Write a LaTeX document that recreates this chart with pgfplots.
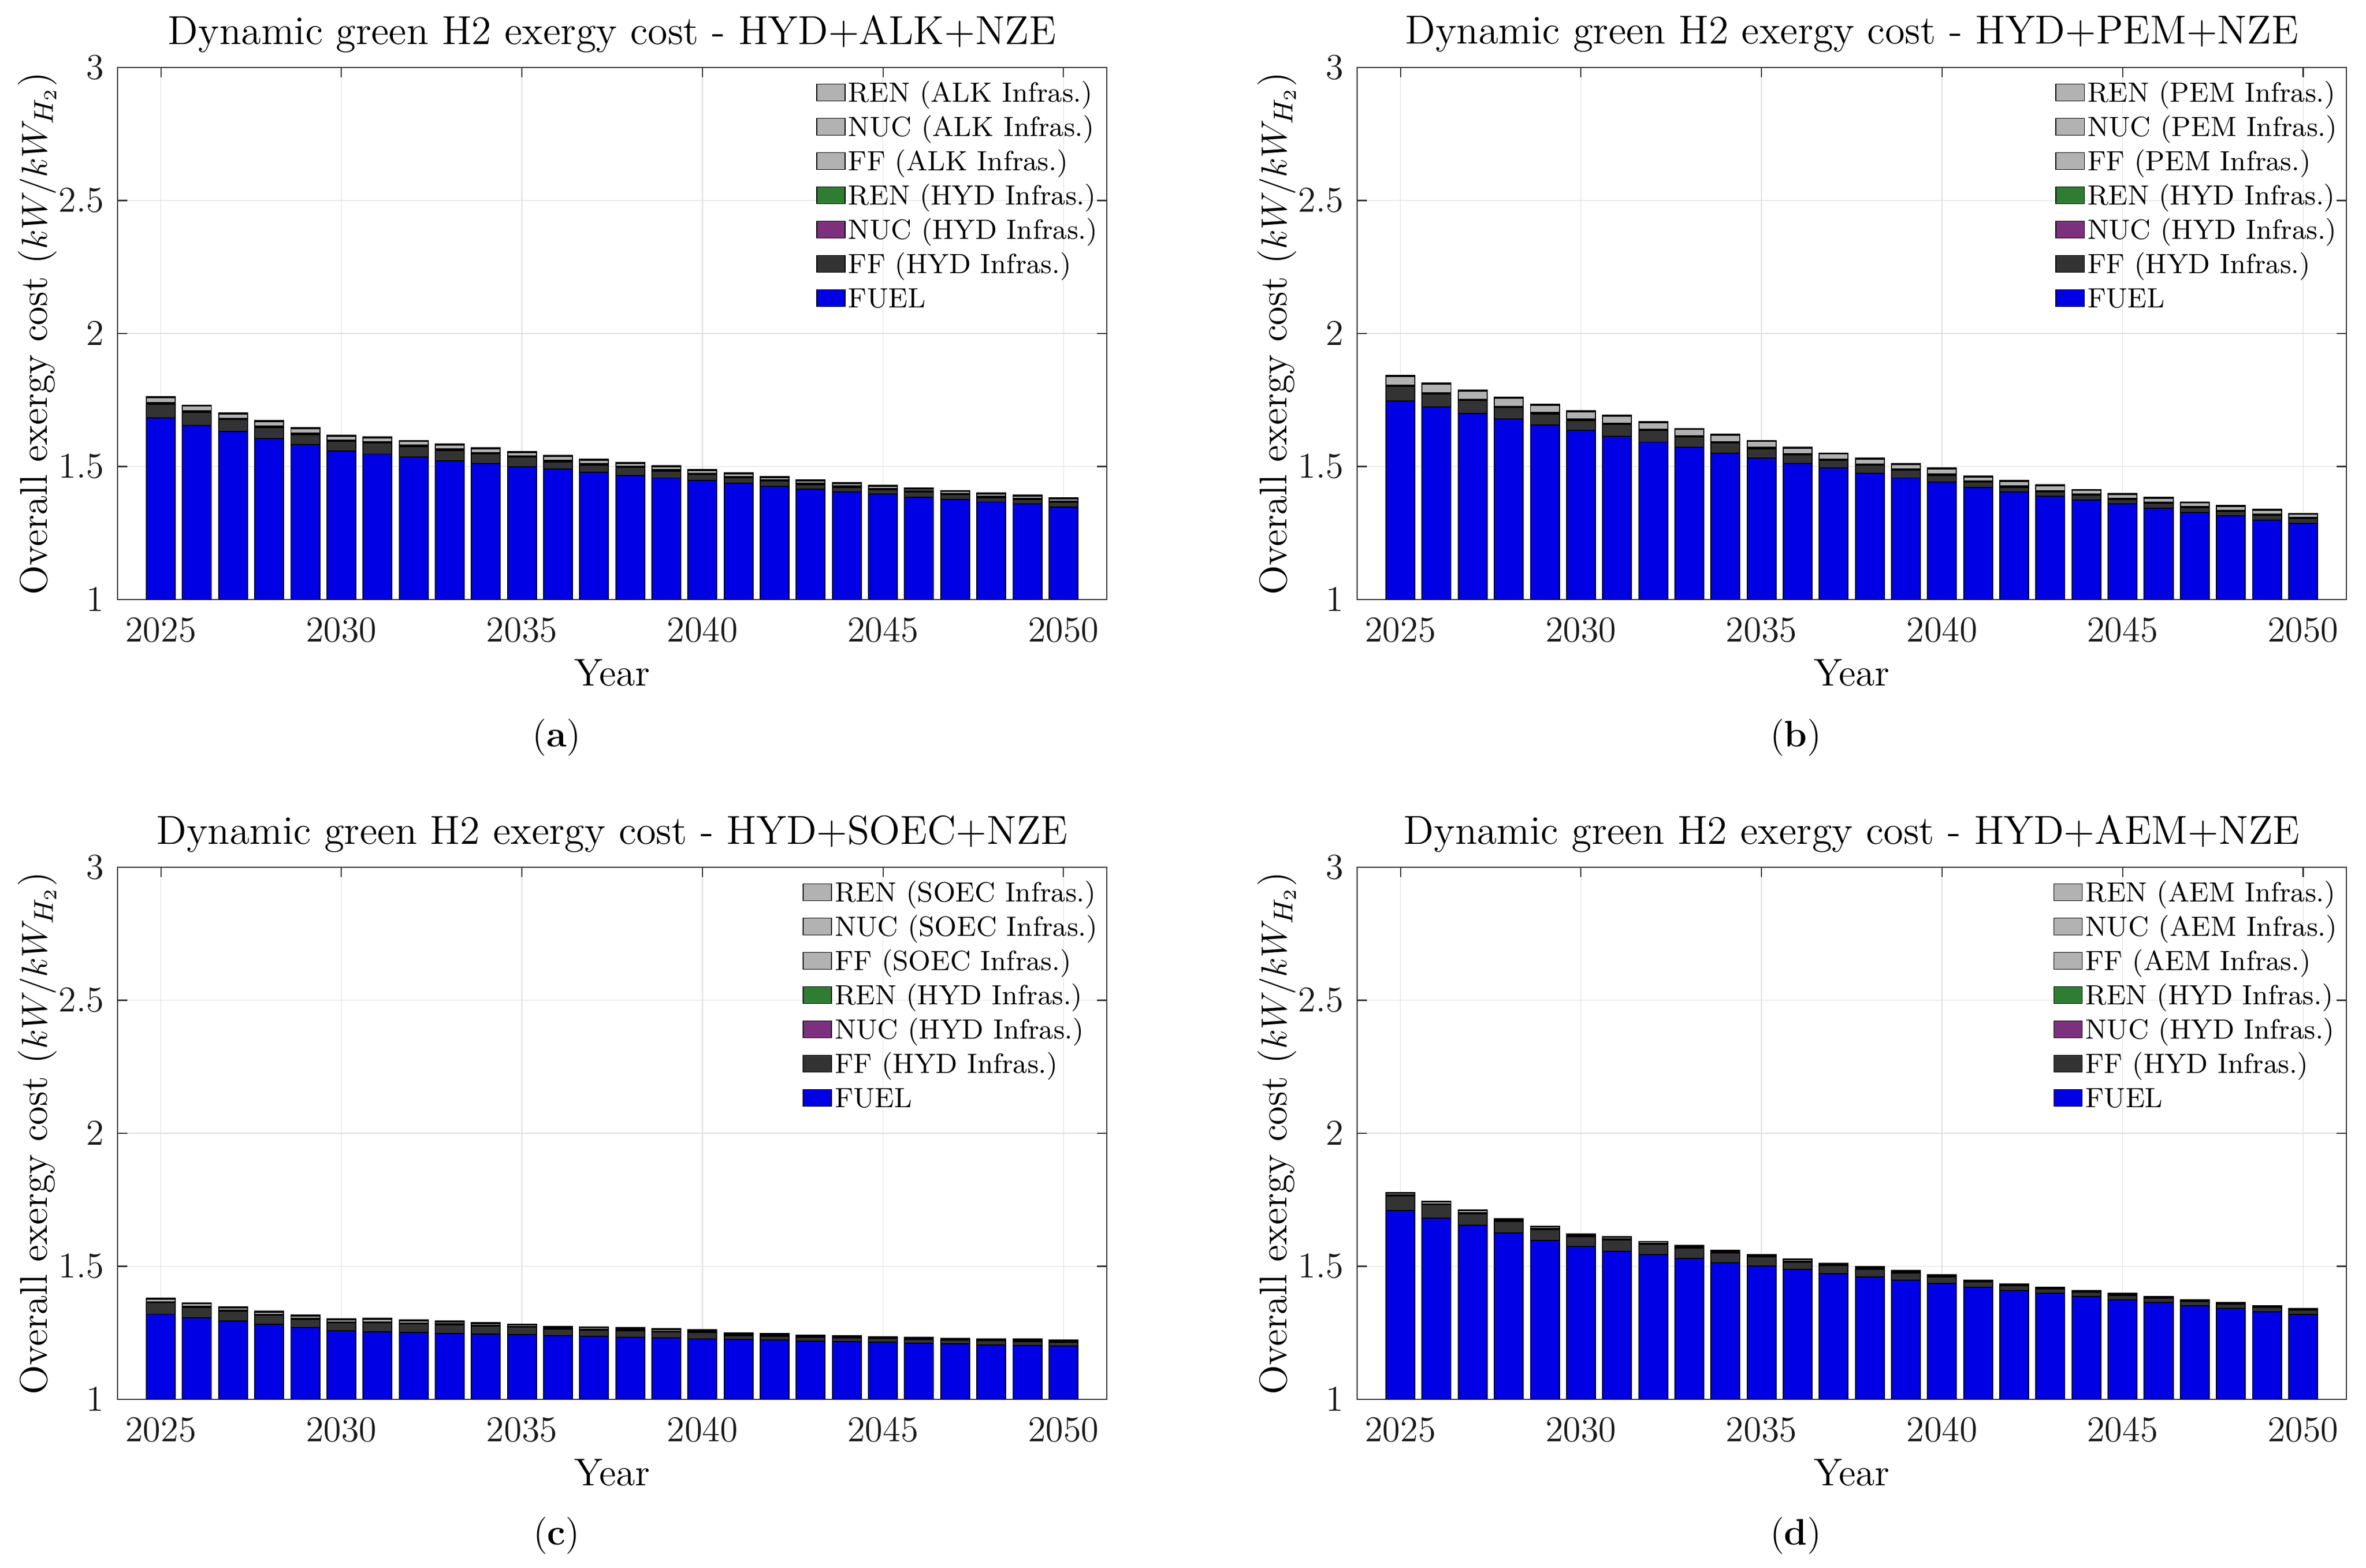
\documentclass[border=0pt]{standalone}
\usepackage{pgfplots}
\pgfplotsset{compat=1.18}
\usepackage{pgfplotstable}

\definecolor{fuelc}{rgb}{0,0,0.9}
\definecolor{ffhc}{rgb}{0.2,0.2,0.2}
\definecolor{nuchc}{rgb}{0.49,0.19,0.49}
\definecolor{renhc}{rgb}{0.18,0.49,0.2}
\definecolor{elc}{rgb}{0.7,0.7,0.7}

% columns: year, FUEL, FF(HYD), NUC(HYD), REN(HYD), FF(EL), NUC(EL), REN(EL)
\pgfplotstableread{
yr fuel ffh nuch renh ffe nuce rene
2025 1.682 0.053 0.001 0.004 0.018 0.002 0.002
2026 1.655 0.049 0.001 0.004 0.018 0.002 0.002
2027 1.631 0.045 0.001 0.004 0.016 0.002 0.002
2028 1.606 0.041 0.001 0.004 0.016 0.002 0.002
2029 1.582 0.038 0.001 0.004 0.017 0.002 0.002
2030 1.559 0.036 0.001 0.004 0.014 0.002 0.002
2031 1.547 0.041 0.001 0.004 0.015 0.002 0.002
2032 1.535 0.040 0.001 0.004 0.014 0.002 0.002
2033 1.522 0.039 0.001 0.004 0.014 0.002 0.002
2034 1.512 0.035 0.001 0.004 0.014 0.002 0.002
2035 1.499 0.036 0.001 0.004 0.013 0.002 0.002
2036 1.490 0.028 0.001 0.004 0.014 0.002 0.002
2037 1.478 0.028 0.001 0.004 0.012 0.002 0.002
2038 1.467 0.029 0.001 0.004 0.011 0.002 0.002
2039 1.457 0.026 0.001 0.004 0.011 0.002 0.002
2040 1.447 0.023 0.001 0.004 0.010 0.002 0.002
2041 1.437 0.021 0.001 0.004 0.009 0.002 0.002
2042 1.426 0.019 0.001 0.004 0.008 0.002 0.002
2043 1.416 0.016 0.001 0.004 0.008 0.002 0.002
2044 1.405 0.017 0.001 0.004 0.008 0.002 0.002
2045 1.396 0.016 0.001 0.004 0.008 0.002 0.002
2046 1.385 0.019 0.001 0.004 0.007 0.002 0.002
2047 1.377 0.017 0.001 0.004 0.007 0.002 0.002
2048 1.367 0.016 0.001 0.004 0.008 0.002 0.002
2049 1.359 0.017 0.001 0.004 0.007 0.002 0.002
2050 1.348 0.017 0.001 0.004 0.008 0.002 0.002
}\tA

\pgfplotstableread{
yr fuel ffh nuch renh ffe nuce rene
2025 1.746 0.055 0.001 0.004 0.033 0.002 0.002
2026 1.723 0.049 0.001 0.004 0.033 0.002 0.002
2027 1.699 0.049 0.001 0.004 0.030 0.002 0.002
2028 1.678 0.043 0.001 0.004 0.030 0.002 0.002
2029 1.656 0.042 0.001 0.004 0.027 0.002 0.002
2030 1.635 0.038 0.001 0.004 0.027 0.002 0.002
2031 1.613 0.045 0.001 0.004 0.026 0.002 0.002
2032 1.592 0.043 0.001 0.004 0.024 0.002 0.002
2033 1.572 0.039 0.001 0.004 0.023 0.002 0.002
2034 1.551 0.037 0.001 0.004 0.024 0.002 0.002
2035 1.531 0.036 0.001 0.004 0.022 0.002 0.002
2036 1.512 0.031 0.001 0.004 0.020 0.002 0.002
2037 1.494 0.029 0.001 0.004 0.019 0.002 0.002
2038 1.475 0.029 0.001 0.004 0.018 0.002 0.002
2039 1.457 0.029 0.001 0.004 0.017 0.002 0.002
2040 1.441 0.026 0.001 0.004 0.018 0.002 0.002
2041 1.422 0.019 0.001 0.004 0.015 0.002 0.002
2042 1.405 0.017 0.001 0.004 0.016 0.002 0.002
2043 1.389 0.016 0.001 0.004 0.017 0.002 0.002
2044 1.375 0.017 0.001 0.004 0.013 0.002 0.002
2045 1.359 0.017 0.001 0.004 0.013 0.002 0.002
2046 1.344 0.017 0.001 0.004 0.014 0.002 0.002
2047 1.328 0.017 0.001 0.004 0.013 0.002 0.002
2048 1.314 0.017 0.001 0.004 0.013 0.002 0.002
2049 1.299 0.017 0.001 0.004 0.014 0.002 0.002
2050 1.287 0.017 0.001 0.004 0.011 0.002 0.002
}\tB

\pgfplotstableread{
yr fuel ffh nuch renh ffe nuce rene
2025 1.320 0.043 0.001 0.002 0.011 0.0015 0.0015
2026 1.307 0.039 0.001 0.002 0.011 0.0015 0.0015
2027 1.295 0.037 0.001 0.002 0.009 0.0015 0.0015
2028 1.283 0.033 0.001 0.002 0.009 0.0015 0.0015
2029 1.270 0.031 0.001 0.002 0.009 0.0015 0.0015
2030 1.258 0.030 0.001 0.002 0.008 0.0015 0.0015
2031 1.254 0.034 0.001 0.002 0.010 0.0015 0.0015
2032 1.251 0.033 0.001 0.002 0.008 0.0015 0.0015
2033 1.247 0.034 0.001 0.002 0.007 0.0015 0.0015
2034 1.245 0.031 0.001 0.002 0.006 0.0015 0.0015
2035 1.243 0.029 0.001 0.002 0.005 0.0015 0.0015
2036 1.239 0.025 0.001 0.002 0.005 0.0015 0.0015
2037 1.237 0.023 0.001 0.002 0.007 0.0015 0.0015
2038 1.234 0.024 0.001 0.002 0.005 0.0015 0.0015
2039 1.231 0.022 0.001 0.002 0.006 0.0015 0.0015
2040 1.227 0.024 0.001 0.002 0.004 0.0015 0.0015
2041 1.225 0.015 0.001 0.002 0.003 0.0015 0.0015
2042 1.223 0.014 0.001 0.002 0.004 0.0015 0.0015
2043 1.219 0.014 0.001 0.002 0.003 0.0015 0.0015
2044 1.217 0.014 0.001 0.002 0.003 0.0015 0.0015
2045 1.215 0.014 0.001 0.002 0.001 0.0015 0.0015
2046 1.211 0.014 0.001 0.002 0.003 0.0015 0.0015
2047 1.209 0.014 0.001 0.002 0.001 0.0015 0.0015
2048 1.205 0.016 0.001 0.002 0.001 0.0015 0.0015
2049 1.203 0.014 0.001 0.002 0.003 0.0015 0.0015
2050 1.201 0.013 0.001 0.002 0.002 0.0015 0.0015
}\tC

\pgfplotstableread{
yr fuel ffh nuch renh ffe nuce rene
2025 1.710 0.054 0.001 0.003 0.007 0.001 0.001
2026 1.680 0.051 0.001 0.003 0.007 0.001 0.001
2027 1.654 0.044 0.001 0.003 0.007 0.001 0.001
2028 1.625 0.043 0.001 0.003 0.004 0.001 0.001
2029 1.598 0.040 0.001 0.003 0.006 0.001 0.001
2030 1.574 0.037 0.001 0.003 0.004 0.001 0.001
2031 1.557 0.043 0.001 0.003 0.005 0.001 0.001
2032 1.543 0.040 0.001 0.003 0.005 0.001 0.001
2033 1.529 0.039 0.001 0.003 0.004 0.001 0.001
2034 1.514 0.037 0.001 0.003 0.004 0.001 0.001
2035 1.501 0.034 0.001 0.003 0.004 0.001 0.001
2036 1.488 0.028 0.001 0.003 0.005 0.001 0.001
2037 1.473 0.029 0.001 0.003 0.004 0.001 0.001
2038 1.460 0.029 0.001 0.003 0.003 0.001 0.001
2039 1.448 0.027 0.001 0.003 0.003 0.001 0.001
2040 1.436 0.024 0.001 0.003 0.003 0.001 0.001
2041 1.421 0.020 0.001 0.002 0.001 0.001 0.001
2042 1.409 0.019 0.001 0.002 0.001 0.001 0.001
2043 1.399 0.016 0.001 0.002 0.001 0.001 0.002
2044 1.387 0.016 0.001 0.002 0.001 0.001 0.002
2045 1.374 0.017 0.001 0.002 0.001 0.001 0.002
2046 1.364 0.016 0.001 0.002 0.001 0.001 0.0005
2047 1.352 0.017 0.001 0.002 0.001 0.001 0.001
2048 1.342 0.016 0.001 0.002 0.001 0.001 0.0005
2049 1.329 0.017 0.001 0.002 0.001 0.001 0.001
2050 1.319 0.017 0.001 0.002 0.001 0.001 0.0005
}\tD

\pgfplotsset{
  swatch legend/.style={
    legend image code/.code={\draw[##1,draw=black,line width=0.3pt] (0pt,-2pt) rectangle (9.4pt,3.6pt);}
  },
  panel/.style={
    width=327.24pt, height=176.04pt, scale only axis,
    anchor=south west,
    ybar stacked, bar width=0.8,
    xmin=2023.8, xmax=2051.2, ymin=1, ymax=3,
    enlargelimits=false,
    xtick={2025,2030,2035,2040,2045,2050},
    ytick={1,1.5,2,2.5,3},
    /pgf/number format/1000 sep={},
    xmajorgrids, ymajorgrids,
    major grid style={color=black!13, line width=0.3pt},
    axis line style={color=black!80, line width=0.4pt},
    tick align=inside,
    major tick length=3.3pt,
    tick style={color=black!80, line width=0.4pt},
    tick label style={font=\fontsize{11.5}{13}\selectfont, color=black!90},
    xticklabel style={yshift=-2.7pt},
    yticklabel style={xshift=-1pt},
    label style={font=\fontsize{12.8}{14}\selectfont},
    every axis title shift=0pt,
    title style={font=\fontsize{13.4}{15}\selectfont, at={(axis description cs:0.5,1)}, anchor=center, yshift=11pt},
    xlabel={Year},
    xlabel style={at={(axis description cs:0.5,0)}, anchor=center, yshift=-24.3pt},
    ylabel={Overall exergy cost ($kW/kW_{H_2}$)},
    ylabel style={at={(axis description cs:0,0.5)}, anchor=center, yshift=26.5pt},
    legend style={at={(1,1)}, anchor=north east, xshift=-2pt, yshift=-4.3pt,
      draw=none, fill=none, font=\fontsize{9.2}{10}\selectfont,
      row sep=2.14pt, inner sep=0pt,
      nodes={inner xsep=0.9pt, inner ysep=0pt, text height=6.9pt, text depth=2.3pt}},
    legend cell align=left,
    reverse legend,
  },
  seg/.style={draw=black, line width=0.35pt, swatch legend},
}

\newcommand{\panel}[4]{%
\begin{axis}[panel, at={(#1,#2)}, title={Dynamic green H2 exergy cost - HYD+#4+NZE}]
\addplot[seg, fill=fuelc] table[x=yr,y=fuel]{#3};
\addplot[seg, fill=ffhc] table[x=yr,y=ffh]{#3};
\addplot[seg, fill=nuchc] table[x=yr,y=nuch]{#3};
\addplot[seg, fill=renhc] table[x=yr,y=renh]{#3};
\addplot[seg, fill=elc] table[x=yr,y=ffe]{#3};
\addplot[seg, fill=elc] table[x=yr,y=nuce]{#3};
\addplot[seg, fill=elc] table[x=yr,y=rene]{#3};
\legend{FUEL, FF (HYD Infras.), NUC (HYD Infras.), REN (HYD Infras.), FF (#4 Infras.), NUC (#4 Infras.), REN (#4 Infras.)}
\end{axis}}

\begin{document}
\begin{tikzpicture}
\useasboundingbox (0,0) rectangle (782.64pt,518.76pt);
\panel{38.88pt}{320.4pt}{\tA}{ALK}
\panel{448.92pt}{320.4pt}{\tB}{PEM}
\panel{38.88pt}{55.8pt}{\tC}{SOEC}
\panel{448.92pt}{55.8pt}{\tD}{AEM}
\node[font=\fontsize{12.2}{14}\selectfont] at (184.1pt,274.7pt) {(\textbf{a})};
\node[font=\fontsize{12.2}{14}\selectfont] at (594pt,274.7pt) {(\textbf{b})};
\node[font=\fontsize{12.2}{14}\selectfont] at (184.1pt,10.6pt) {(\textbf{c})};
\node[font=\fontsize{12.2}{14}\selectfont] at (594pt,10.6pt) {(\textbf{d})};
\end{tikzpicture}
\end{document}
